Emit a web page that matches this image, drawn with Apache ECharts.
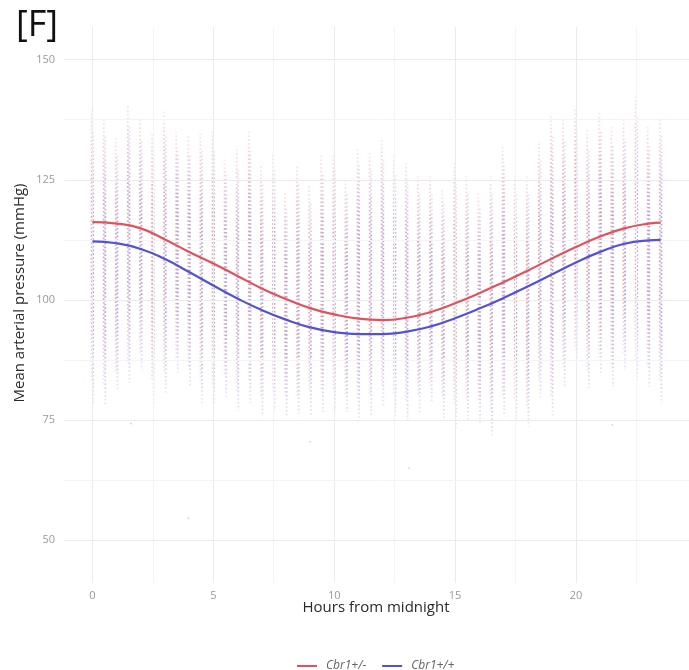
<!DOCTYPE html>
<html>
<head>
<meta charset="utf-8">
<title>Mean arterial pressure</title>
<script src="https://cdn.jsdelivr.net/npm/echarts@6/dist/echarts.min.js"></script>
<style>
  html, body { margin: 0; padding: 0; background: #fff; }
  #chart { width: 689px; height: 670px; }
</style>
</head>
<body>
<div id="chart"></div>
<script>
// half-hour bins (x of the point columns)
const hours = [0, 0.5, 1, 1.5, 2, 2.5, 3, 3.5, 4, 4.5, 5, 5.5, 6, 6.5, 7, 7.5, 8, 8.5, 9, 9.5, 10, 10.5, 11, 11.5,
  12, 12.5, 13, 13.5, 14, 14.5, 15, 15.5, 16, 16.5, 17, 17.5, 18, 18.5, 19, 19.5, 20, 20.5, 21, 21.5, 22, 22.5, 23, 23.5];

// spread of the raw readings in each bin (mmHg)
const hetHi = [139.6, 137.5, 133.7, 140.3, 137.5, 134.4, 139.2, 135.0, 134.0, 134.7, 135.0, 129.2,
  131.3, 135.0, 127.8, 130.2, 122.2, 127.8, 123.6, 130.0, 130.0, 125.0, 131.3, 130.6,
  133.3, 129.9, 128.5, 125.7, 125.7, 122.9, 128.5, 125.7, 122.2, 125.7, 131.9, 125.7,
  125.7, 132.6, 138.2, 137.5, 139.6, 135.4, 138.9, 136.0, 137.5, 142.4, 136.0, 137.5];
const hetLo = [83, 82, 85, 87, 89, 83, 85, 88, 86, 83, 82, 84,
  81, 83, 80, 81, 80, 80, 81, 81, 81, 80, 79, 80,
  82, 80, 79, 80, 82, 80, 78, 79, 79, 77, 80, 79,
  78, 83, 80, 86, 90, 85, 88, 86, 89, 87, 86, 83];
const wtHi = [135, 134, 130, 136, 133, 131, 134, 131, 130, 131, 131, 126,
  127, 131, 124, 127, 119, 124, 120, 126, 127, 122, 128, 127,
  129, 126, 125, 122, 122, 120, 125, 122, 119, 122, 128, 122,
  122, 129, 134, 133, 135, 131, 135, 132, 133, 138, 132, 134];
const wtLo = [78.5, 78.0, 81.0, 82.7, 85.4, 78.0, 80.6, 84.7, 82.0, 78.5, 78.5, 79.8,
  77.0, 78.5, 75.7, 77.0, 75.7, 75.7, 76.0, 76.7, 77.0, 76.7, 75.0, 75.7,
  77.8, 75.7, 74.4, 76.4, 78.5, 75.4, 73.0, 75.0, 74.4, 71.5, 75.7, 75.0,
  73.6, 79.2, 75.7, 82.0, 86.8, 81.3, 84.7, 82.0, 85.4, 83.3, 82.0, 78.5];

// a few stray readings far from the columns
const strays = [[3.97, 54.6], [13.1, 65.0], [1.6, 74.3], [9.0, 70.5], [21.5, 74.0]];

// fitted curves
const fitHours = [0, 1, 2, 3, 4, 5, 6, 7, 8, 9, 10, 11, 12, 13, 14, 15, 16, 17, 18, 19, 20, 21, 22, 23, 23.5];
const hetFit = [116.2, 115.9, 114.9, 112.6, 110.0, 107.6, 105.0, 102.4, 100.2, 98.3, 97.0, 96.1, 95.8,
  96.3, 97.5, 99.3, 101.4, 103.7, 106.1, 108.6, 111.0, 113.2, 114.9, 115.9, 116.1];
const wtFit = [112.2, 111.8, 110.6, 108.5, 105.8, 103.0, 100.3, 97.9, 95.9, 94.3, 93.3, 92.9, 92.9,
  93.4, 94.5, 96.2, 98.2, 100.4, 102.8, 105.3, 107.8, 110.0, 111.7, 112.4, 112.5];

// axis ticks
const xTicks = [0, 5, 10, 15, 20];
const xMinor = [2.5, 7.5, 12.5, 17.5, 22.5];
const yTicks = [50, 75, 100, 125, 150];
const yMinor = [62.5, 87.5, 112.5, 137.5];

const RED = '#e0525c';
const BLUE = '#5252d4';

let myChart = echarts.init(document.getElementById('chart'));

function columnSeries(name, lo, hi, rgb, dx) {
  return {
    name: name,
    type: 'custom',
    silent: true,
    z: 2,
    data: hours.map((h, i) => [h, lo[i], hi[i]]),
    renderItem: function (params, api) {
      const top = api.coord([api.value(0), api.value(2)]);
      const bot = api.coord([api.value(0), api.value(1)]);
      const grad = new echarts.graphic.LinearGradient(0, top[1], 0, bot[1], [
        {offset: 0, color: 'rgba(' + rgb + ',0.15)'},
        {offset: 0.3, color: 'rgba(' + rgb + ',0.55)'},
        {offset: 0.7, color: 'rgba(' + rgb + ',0.55)'},
        {offset: 1, color: 'rgba(' + rgb + ',0.15)'}
      ], true);
      return {
        type: 'line',
        shape: {x1: top[0] + dx, y1: top[1], x2: top[0] + dx, y2: bot[1]},
        style: {stroke: grad, lineWidth: 1.8, lineDash: [1.6, 2.2]}
      };
    }
  };
}

const gridLines = []
  .concat(xTicks.map(v => ({xAxis: v, lineStyle: {color: '#ebebeb', width: 1, type: 'solid'}})))
  .concat(xMinor.map(v => ({xAxis: v, lineStyle: {color: '#f4f4f4', width: 1, type: 'solid'}})))
  .concat(yTicks.map(v => ({yAxis: v, lineStyle: {color: '#ebebeb', width: 1, type: 'solid'}})))
  .concat(yMinor.map(v => ({yAxis: v, lineStyle: {color: '#f4f4f4', width: 1, type: 'solid'}})));

myChart.setOption({
  animation: false,
  textStyle: {fontFamily: '"Open Sans", "Noto Sans", sans-serif'},
  grid: {left: 64, right: 0, top: 27, bottom: 87},
  graphic: [
    {type: 'text', left: 16, top: 8, style: {text: '[F]', fontSize: 36, fill: '#111', fontFamily: '"Open Sans", sans-serif'}},
    {type: 'text', x: 376, y: 608, style: {text: 'Hours from midnight', fontSize: 15, fill: '#2a2a2a', align: 'center', verticalAlign: 'middle', fontFamily: '"Open Sans", sans-serif'}},
    {type: 'text', x: 20, y: 293, rotation: Math.PI / 2, style: {text: 'Mean arterial pressure (mmHg)', fontSize: 15, fill: '#2a2a2a', align: 'center', verticalAlign: 'middle', fontFamily: '"Open Sans", sans-serif'}}
  ],
  legend: {
    left: 292,
    top: 655,
    itemWidth: 20,
    itemHeight: 2,
    itemGap: 16,
    icon: 'rect',
    textStyle: {fontStyle: 'italic', fontSize: 12, color: '#666', padding: [0, 0, 0, 4]},
    data: [{name: 'Cbr1+/-', itemStyle: {color: RED}}, {name: 'Cbr1+/+', itemStyle: {color: BLUE}}]
  },
  xAxis: {
    type: 'value',
    min: -1.175,
    max: 24.675,
    axisLine: {show: false},
    axisTick: {show: false},
    splitLine: {show: false},
    axisLabel: {customValues: xTicks, color: '#999', fontSize: 11, margin: 7}
  },
  yAxis: {
    type: 'value',
    min: 41.1,
    max: 156.8,
    axisLine: {show: false},
    axisTick: {show: false},
    splitLine: {show: false},
    axisLabel: {customValues: yTicks, color: '#999', fontSize: 11, margin: 9}
  },
  series: [
    {
      type: 'scatter',
      silent: true,
      z: 1,
      symbolSize: 2,
      itemStyle: {color: 'rgba(120,100,180,0.35)'},
      data: strays,
      markLine: {
        silent: true,
        symbol: ['none', 'none'],
        label: {show: false},
        emphasis: {disabled: true},
        data: gridLines
      }
    },
    columnSeries('hetPts', hetLo, hetHi, '225,85,100', -0.8),
    columnSeries('wtPts', wtLo, wtHi, '95,95,215', 0.8),
    {
      name: 'Cbr1+/-',
      type: 'line',
      z: 5,
      smooth: true,
      showSymbol: false,
      data: fitHours.map((h, i) => [h, hetFit[i]]),
      lineStyle: {color: RED, width: 2.2},
      itemStyle: {color: RED}
    },
    {
      name: 'Cbr1+/+',
      type: 'line',
      z: 5,
      smooth: true,
      showSymbol: false,
      data: fitHours.map((h, i) => [h, wtFit[i]]),
      lineStyle: {color: BLUE, width: 2.2},
      itemStyle: {color: BLUE}
    }
  ]
});
</script>
</body>
</html>
